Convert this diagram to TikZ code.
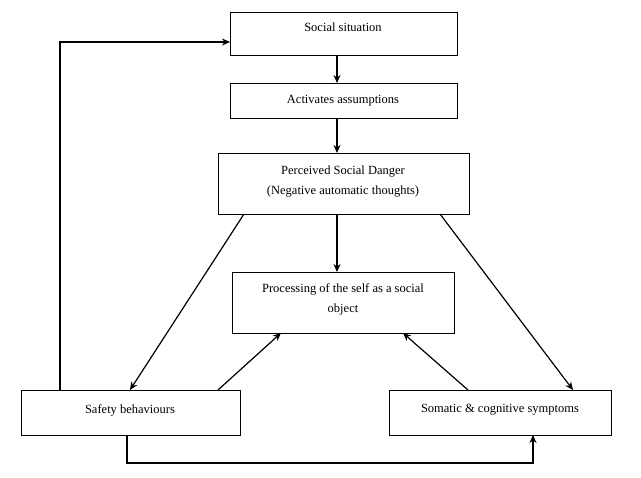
\documentclass[tikz,border=0pt]{standalone}
\usepackage{fontspec}
\setmainfont{Liberation Serif}
\usetikzlibrary{arrows.meta}
\begin{document}
\begin{tikzpicture}[x=1pt,y=-1pt,
  box/.style={draw,line width=1.2pt,inner sep=0pt},
  lbl/.style={align=center,font=\fontsize{12.5}{20}\selectfont},
  arr/.style={-{Stealth[length=8pt,width=7pt]},line width=1.2pt}]
\useasboundingbox (0,0) rectangle (641,478);
\node[box,minimum width=227pt,minimum height=43pt,anchor=north west] (s) at (230,12) {};
\node[lbl] (st) at (343,27) {Social situation};
\node[box,minimum width=227pt,minimum height=35pt,anchor=north west] (a) at (230,83) {};
\node[lbl] (at) at (343,101) {Activates assumptions};
\node[box,minimum width=251pt,minimum height=61pt,anchor=north west] (p) at (218,153) {};
\node[lbl] (pt) at (343,182) {Perceived Social Danger\\(Negative automatic thoughts)};
\node[box,minimum width=222pt,minimum height=61pt,anchor=north west] (o) at (232,272) {};
\node[lbl] (ot) at (343,299) {Processing of the self as a social\\object};
\node[box,minimum width=219pt,minimum height=45pt,anchor=north west] (b) at (21,390) {};
\node[lbl] (bt) at (130,410) {Safety behaviours};
\node[box,minimum width=222pt,minimum height=45pt,anchor=north west] (m) at (389,390) {};
\node[lbl] (mt) at (500,410) {Somatic \& cognitive symptoms};
\draw[arr] (337,55) -- (337,83);
\draw[arr] (337,118) -- (337,153);
\draw[arr] (337,214) -- (337,272);
\draw[arr] (244,214) -- (130,390);
\draw[arr] (440,214) -- (573,390);
\draw[arr] (218,390) -- (281,333);
\draw[arr] (468,390) -- (403,333);
\draw[arr] (60,390) -- (60,42) -- (230,42);
\draw[arr] (127,435) -- (127,463) -- (533,463) -- (533,435);
\end{tikzpicture}
\end{document}
